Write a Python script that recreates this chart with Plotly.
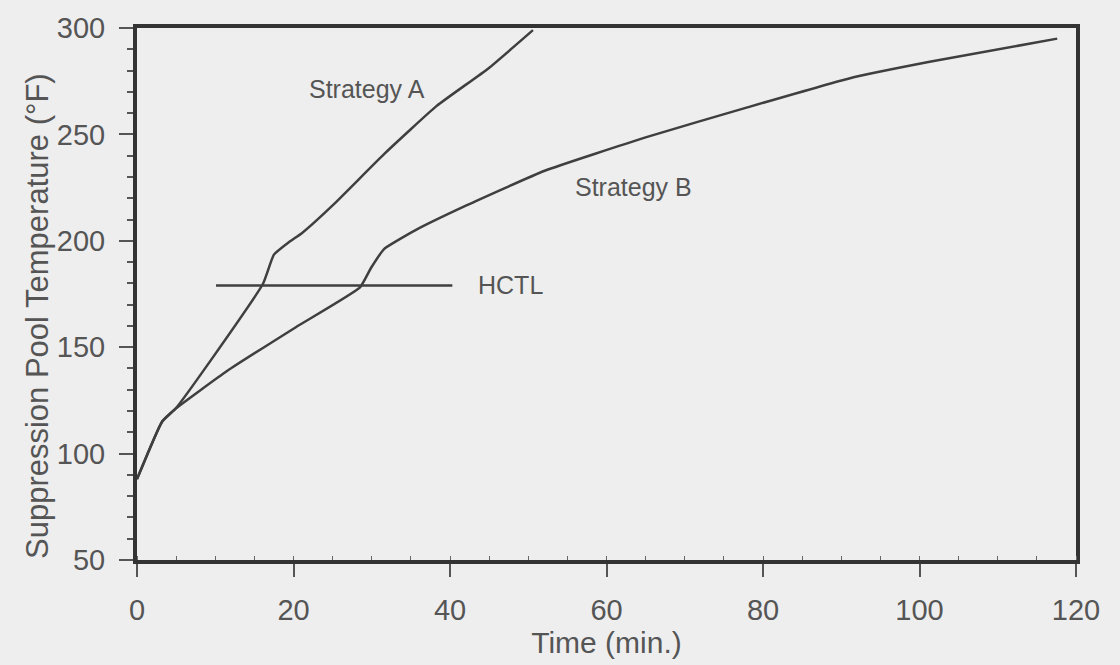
import plotly.graph_objects as go

# Data
time_a = [0, 3.2, 4.9, 9.4, 16.1, 17.5, 19.4, 21.1, 25.1, 31.7, 38.3, 44.9, 50.6]
temp_a = [88, 115, 121, 143.7, 179.8, 193.5, 199.3, 203.7, 217, 241.2, 263.4, 281, 299]

time_b = [0, 3.2, 4.9, 11.5, 20.3, 28.5, 29.9, 31.6, 35.6, 42.1, 52.1, 65.1, 78, 91, 101.3, 117.6]
temp_b = [88, 115, 121, 138.8, 159.4, 178.1, 187.2, 196.2, 205, 216.6, 232.9, 248.7, 262.7, 276.3, 284.1, 295]

hctl_time = [10.1, 40.3]
hctl_temp = [179, 179]

x_ticks = [0, 20, 40, 60, 80, 100, 120]
y_ticks = [50, 100, 150, 200, 250, 300]

LINE = "#3f3f3f"
TEXT = "#555555"
BG = "#eeeeee"
FONT = "Liberation Sans, Arial, sans-serif"

fig = go.Figure()
fig.add_trace(go.Scatter(x=time_a, y=temp_a, mode="lines",
                         line=dict(color=LINE, width=2.5, shape="spline", smoothing=0.4),
                         name="Strategy A", showlegend=False))
fig.add_trace(go.Scatter(x=time_b, y=temp_b, mode="lines",
                         line=dict(color=LINE, width=2.5, shape="spline", smoothing=0.4),
                         name="Strategy B", showlegend=False))
fig.add_trace(go.Scatter(x=hctl_time, y=hctl_temp, mode="lines",
                         line=dict(color=LINE, width=2.5),
                         name="HCTL", showlegend=False))

fig.add_annotation(x=29.4, y=271.5, text="Strategy A", showarrow=False,
                   font=dict(size=25, color=TEXT, family=FONT))
fig.add_annotation(x=63.4, y=225.3, text="Strategy B", showarrow=False,
                   font=dict(size=25, color=TEXT, family=FONT))
fig.add_annotation(x=43.3, y=179, text="HCTL", showarrow=False, xanchor="left",
                   font=dict(size=25, color=TEXT, family=FONT))
# y-axis title (placed as annotation to match the reference position)
fig.add_annotation(xref="paper", yref="paper", x=0, y=0.5, xshift=-100, yshift=-22,
                   text="Suppression Pool Temperature (°F)", textangle=-90,
                   showarrow=False, xanchor="center", yanchor="middle",
                   font=dict(size=31, color=TEXT, family=FONT))

fig.update_layout(
    width=1120, height=665,
    margin=dict(l=137, r=44, t=28, b=97),
    paper_bgcolor=BG, plot_bgcolor=BG,
    font=dict(family=FONT, color=TEXT),
    showlegend=False,
)
fig.update_xaxes(
    range=[0, 120], tickvals=x_ticks, ticktext=[str(v) for v in x_ticks],
    showgrid=False, zeroline=False,
    showline=True, linewidth=4, linecolor="#333333", mirror=True,
    ticks="outside", ticklen=13, tickwidth=2, tickcolor="#555555",
    minor=dict(dtick=5, ticks="inside", ticklen=4, tickwidth=1, tickcolor="#666666"),
    tickfont=dict(size=29, color=TEXT), ticklabelstandoff=8,
    title=dict(text="Time (min.)", font=dict(size=30, color=TEXT), standoff=6),
)
fig.update_yaxes(
    range=[50, 300], tickvals=y_ticks, ticktext=[str(v) for v in y_ticks],
    showgrid=False, zeroline=False,
    showline=True, linewidth=4, linecolor="#333333", mirror=True,
    ticks="outside", ticklen=14, tickwidth=2, tickcolor="#555555",
    minor=dict(dtick=10, ticks="outside", ticklen=6, tickwidth=1.5, tickcolor="#555555"),
    tickfont=dict(size=29, color=TEXT), ticklabelstandoff=8,
)

fig.write_html("out.html")
